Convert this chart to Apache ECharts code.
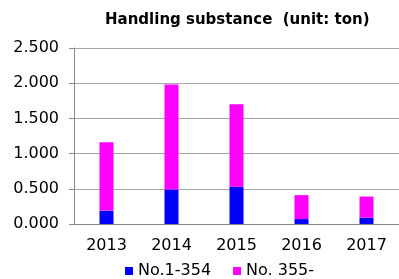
<!DOCTYPE html>
<html lang="en">
<head>
    <meta charset="UTF-8">
    <title>Handling substance</title>
    <script src="https://cdn.jsdelivr.net/npm/echarts@6/dist/echarts.min.js"></script>
    <style>
        html, body { margin: 0; padding: 0; background: #fff; }
        #main { width: 399px; height: 279px; }
    </style>
</head>
<body>
<div id="main"></div>
<script>
    // data
    var years = ['2013', '2014', '2015', '2016', '2017'];
    var lowNo = [0.19, 0.49, 0.53, 0.07, 0.09];      // No.1-354
    var highNo = [0.97, 1.49, 1.17, 0.34, 0.30];     // No. 355-
    var seriesNames = ['No.1-354', 'No. 355-'];

    var font = '"DejaVu Sans", sans-serif';
    var myChart = echarts.init(document.getElementById('main'));

    var option = {
        backgroundColor: '#fff',
        animation: false,
        title: {
            text: 'Handling substance  (unit: ton)',
            left: 105,
            top: 13,
            padding: 0,
            textStyle: { fontFamily: font, fontSize: 15, fontWeight: 'bold', color: '#000' }
        },
        legend: {
            data: seriesNames,
            left: 125,
            top: 263,
            padding: 0,
            icon: 'rect',
            itemWidth: 8,
            itemHeight: 8,
            itemGap: 22,
            textStyle: { fontFamily: font, fontSize: 16, color: '#000' }
        },
        grid: { left: 74, top: 48, bottom: 55, right: -3 },
        xAxis: {
            type: 'category',
            data: years,
            axisLine: { lineStyle: { color: '#888', width: 1 } },
            axisTick: { length: 5, lineStyle: { color: '#888' } },
            axisLabel: { margin: 14, fontFamily: font, fontSize: 16, color: '#000' }
        },
        yAxis: {
            type: 'value',
            min: 0,
            max: 2.5,
            interval: 0.5,
            axisLine: { show: true, lineStyle: { color: '#888', width: 1 } },
            axisTick: { show: true, length: 5, lineStyle: { color: '#888' } },
            splitLine: { lineStyle: { color: '#a6a6a6', width: 1 } },
            axisLabel: {
                margin: 15,
                fontFamily: font,
                fontSize: 16,
                color: '#000',
                formatter: function (v) { return v.toFixed(3); }
            }
        },
        series: [
            {
                name: seriesNames[0],
                type: 'bar',
                stack: 'total',
                barWidth: 14,
                itemStyle: { color: '#0000ff' },
                data: lowNo
            },
            {
                name: seriesNames[1],
                type: 'bar',
                stack: 'total',
                barWidth: 14,
                itemStyle: { color: '#ff00ff' },
                data: highNo
            }
        ]
    };
    myChart.setOption(option);
</script>
</body>
</html>
